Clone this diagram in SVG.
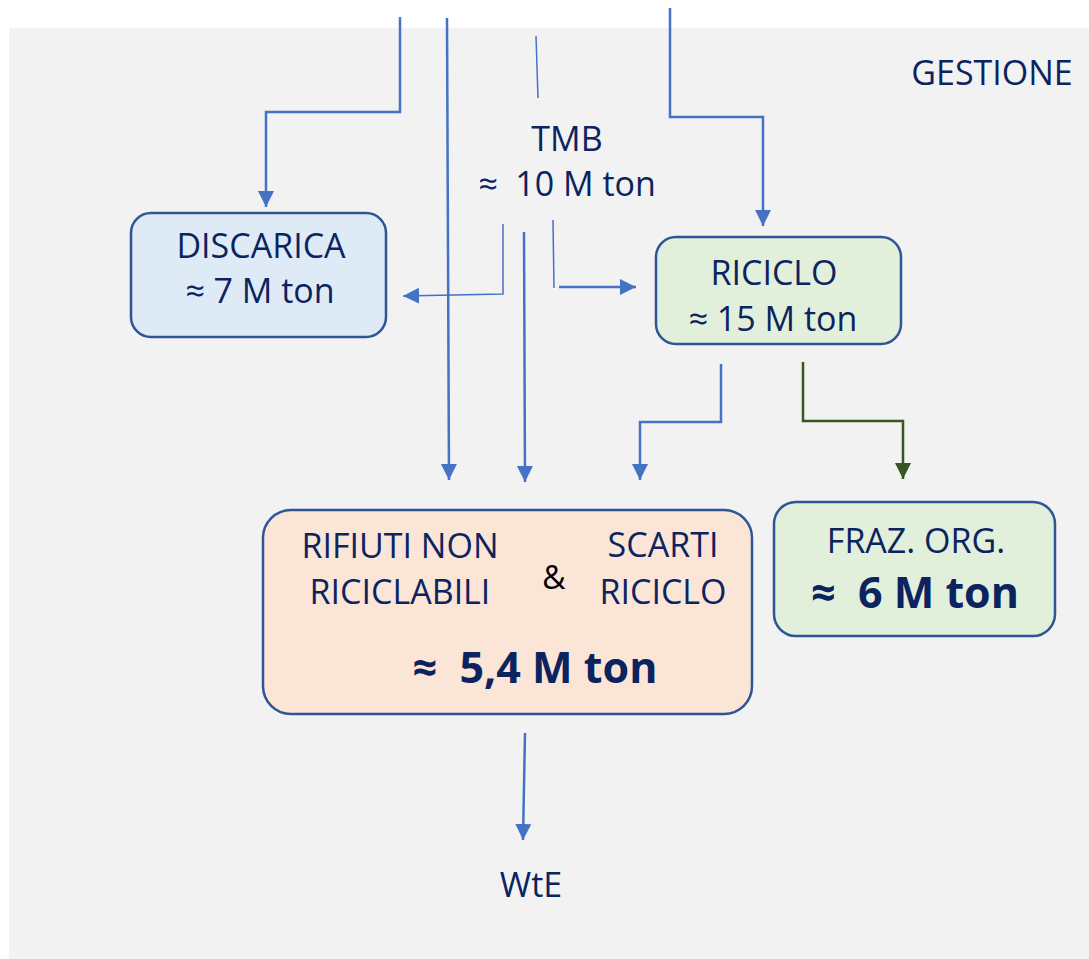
<svg xmlns="http://www.w3.org/2000/svg" width="1089" height="959" viewBox="0 0 1089 959">
<style>
.t{font-family:"Open Sans","Noto Sans","Liberation Sans",sans-serif;fill:#0b2460;text-anchor:middle}
.n{font-size:34px}
.b{font-size:43px;font-weight:bold}
.box{stroke:#2f5597;stroke-width:2.5}
.c{fill:none;stroke:#4472c4;stroke-width:2.5}
.thin{stroke-width:1.5}
.g{fill:none;stroke:#375623;stroke-width:2.5}
</style>
<defs>
<marker id="ab" markerUnits="userSpaceOnUse" markerWidth="18" markerHeight="18" viewBox="0 0 18 18" refX="16" refY="9" orient="auto">
<path d="M0,1 L16,9 L0,17 Z" fill="#4472c4"/>
</marker>
<marker id="ag" markerUnits="userSpaceOnUse" markerWidth="18" markerHeight="18" viewBox="0 0 18 18" refX="16" refY="9" orient="auto">
<path d="M0,1 L16,9 L0,17 Z" fill="#375623"/>
</marker>
</defs>
<rect x="0" y="0" width="1089" height="959" fill="#ffffff"/>
<rect x="9" y="28" width="1080" height="931" fill="#f2f2f2"/>
<text class="t n" x="992" y="85">GESTIONE</text>
<g id="connectors">
<path class="c" d="M400,17 V112 H266 V207" marker-end="url(#ab)"/>
<path class="c" d="M447,18 L449,480" marker-end="url(#ab)"/>
<path class="c thin" d="M536,36 L538,98"/>
<path class="c" d="M670,8 V117 H763 V226" marker-end="url(#ab)"/>
<path class="c thin" d="M503,224 V294 L403,296" marker-end="url(#ab)"/>
<path class="c" d="M524,232 L525,482" marker-end="url(#ab)"/>
<path class="c thin" d="M553,220 L554,288"/>
<path class="c" d="M559,287 H636" marker-end="url(#ab)"/>
<path class="c" d="M721,364 V422 H640 V480" marker-end="url(#ab)"/>
<path class="g" d="M803,362 V421 H903 V479" marker-end="url(#ag)"/>
<path class="c" d="M525,733 L523,840" marker-end="url(#ab)"/>
</g>
<g id="tmb">
<text class="t n" x="567" y="151">TMB</text>
<text class="t n" x="567" y="196">≈&#160; 10 M ton</text>
</g>
<g id="discarica">
<rect class="box" x="131" y="213" width="255" height="124" rx="20" fill="#deebf7"/>
<text class="t n" x="261" y="258">DISCARICA</text>
<text class="t n" x="260" y="303">≈ 7 M ton</text>
</g>
<g id="riciclo">
<rect class="box" x="656" y="237" width="245" height="107" rx="20" fill="#e2efda"/>
<text class="t n" x="774" y="285">RICICLO</text>
<text class="t n" x="773" y="331">≈ 15 M ton</text>
</g>
<g id="rifiuti">
<rect class="box" x="263" y="510" width="489" height="204" rx="28" fill="#fbe5d6"/>
<text class="t n" x="400" y="558">RIFIUTI NON</text>
<text class="t n" x="400" y="604">RICICLABILI</text>
<text x="554" y="589" font-family="'Open Sans','Noto Sans',sans-serif" font-size="32" fill="#000" text-anchor="middle">&amp;</text>
<text class="t n" x="663" y="557">SCARTI</text>
<text class="t n" x="663" y="604">RICICLO</text>
<text class="t b" x="535" y="683">≈&#160; 5,4 M ton</text>
</g>
<g id="fraz">
<rect class="box" x="774" y="502" width="281" height="134" rx="22" fill="#e2efda"/>
<text class="t n" x="916" y="553">FRAZ. ORG.</text>
<text class="t b" x="915" y="608">≈&#160; 6 M ton</text>
</g>
<g id="wte">
<text class="t n" x="531" y="897">WtE</text>
</g>
</svg>
